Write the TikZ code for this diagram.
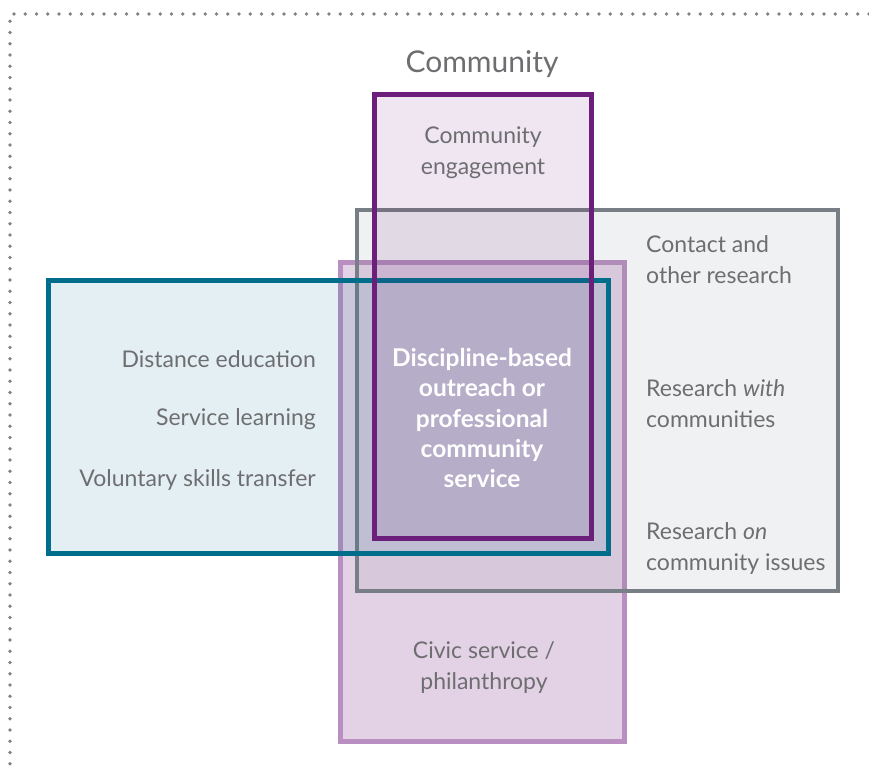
\documentclass[tikz,border=0pt]{standalone}
\usepackage{fontspec}
\setmainfont{Lato}
\definecolor{txtgray}{HTML}{6E6E71}
\definecolor{dotgray}{HTML}{808285}
\definecolor{engpurple}{HTML}{6B1F7B}
\definecolor{resgray}{HTML}{787E85}
\definecolor{teachteal}{HTML}{006E8A}
\definecolor{civicpurple}{HTML}{B98EC0}
\begin{document}
\begin{tikzpicture}[x=1pt,y=-1pt,
  lbl/.style={text=txtgray,font=\fontsize{23}{31}\selectfont,inner sep=0pt},
  corelbl/.style={text=white,font=\fontsize{24.5}{30.3}\selectfont\bfseries,align=center,inner sep=0pt},
  area/.style={line width=5pt,fill opacity=0.11}]
\useasboundingbox (0,0) rectangle (869,774);
% dotted frame
\draw[dotgray,line width=3.6pt,line cap=round,dash pattern=on 0pt off 11.25pt] (869,14) -- (10,14) -- (10,774);
% areas
\path[area,draw=civicpurple,fill=civicpurple,fill opacity=0.4] (340,262) rectangle (624,741);
\path[area,draw=resgray,fill=resgray,line width=4.3pt] (357,210) rectangle (838,591);
\path[area,draw=teachteal,fill=teachteal] (48,280) rectangle (608,553);
\path[area,draw=engpurple,fill=engpurple] (374,94) rectangle (591,538);
% labels
\node[lbl,font=\fontsize{30}{31}\selectfont] (title) at (482,64) {Community};
\node[lbl,align=center] (eng) at (483,153) {Community\\engagement};
\node[lbl,anchor=east] (dist) at (316,359) {Distance education};
\node[lbl,anchor=east] (serv) at (316,419) {Service learning};
\node[lbl,anchor=east] (vol) at (316,480) {Voluntary skills transfer};
\node[lbl,anchor=west,align=left] (cont) at (646,260) {Contact and\\other research};
\node[lbl,anchor=west,align=left] (rwith) at (646,404) {Research \textit{with}\\communities};
\node[lbl,anchor=west,align=left] (ron) at (646,548) {Research \textit{on}\\community issues};
\node[corelbl] (core) at (482,418) {Discipline-based\\outreach or\\professional\\community\\service};
\node[lbl,align=center] (civic) at (484,667) {Civic service /\\philanthropy};
\end{tikzpicture}
\end{document}
